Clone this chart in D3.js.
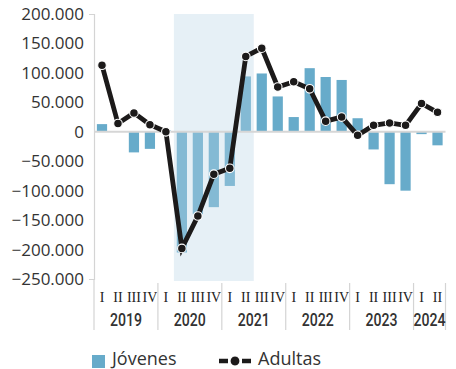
<!DOCTYPE html>
<html>
<head>
<meta charset="utf-8">
<script src="https://cdn.jsdelivr.net/npm/d3@7"></script>
<style>
  html, body { margin: 0; padding: 0; background: #fff; }
  svg { display: block; }
</style>
</head>
<body>
<svg id="chart" width="456" height="369"></svg>
<script>
// Quarterly change in employment, young vs adult women
const years = ["2019", "2020", "2021", "2022", "2023", "2024"];
const quarters = [
  "2019-I", "2019-II", "2019-III", "2019-IV",
  "2020-I", "2020-II", "2020-III", "2020-IV",
  "2021-I", "2021-II", "2021-III", "2021-IV",
  "2022-I", "2022-II", "2022-III", "2022-IV",
  "2023-I", "2023-II", "2023-III", "2023-IV",
  "2024-I", "2024-II"
];
const jovenes = [
  13000, 1000, -35000, -29000,
  3000, -205000, -140000, -128000,
  -92000, 94000, 99000, 60000,
  25000, 108000, 93000, 88000,
  23000, -30000, -89000, -100000,
  -4000, -23000
];
const adultas = [
  113000, 14000, 32000, 12000,
  0, -198000, -143000, -72000,
  -62000, 128000, 142000, 76000,
  85000, 73000, 18000, 25000,
  -6000, 11000, 15000, 11000,
  48000, 33000
];
const yTicks = [200000, 150000, 100000, 50000, 0, -50000, -100000, -150000, -200000, -250000];
// Quarters covered by the shaded band (pandemic period)
const shadeFrom = "2020-II", shadeTo = "2021-II";

const svg = d3.select("#chart");
const fmt = v => d3.format(",")(v).replace(/,/g, ".");

const x = d3.scaleBand().domain(quarters).range([94, 445.5]).paddingInner(0.36).paddingOuter(0.18);
const xStep = d3.scaleBand().domain(quarters).range([94, 445.5]);
const y = d3.scaleLinear().domain([-250000, 200000]).range([279, 14]);

const barColor = "#67abca";

// y axis
const yAxis = d3.axisLeft(y).tickValues(yTicks).tickFormat(fmt).tickSize(0).tickSizeOuter(5).tickPadding(10);
const ya = svg.append("g").attr("transform", "translate(94,0)").call(yAxis);
ya.select(".domain").attr("stroke", "#d4d4d4").attr("stroke-width", 1.2);
ya.selectAll("text").attr("font-family", "'Open Sans', sans-serif").attr("font-size", 17).attr("fill", "#333");

// bars
svg.append("g").selectAll("rect").data(quarters).join("rect")
  .attr("x", d => x(d))
  .attr("width", x.bandwidth())
  .attr("y", (d, i) => y(Math.max(0, jovenes[i])))
  .attr("height", (d, i) => Math.abs(y(jovenes[i]) - y(0)))
  .attr("fill", barColor);

// shaded period, laid over the bars
svg.append("rect")
  .attr("x", xStep(shadeFrom))
  .attr("width", xStep(shadeTo) + xStep.step() - xStep(shadeFrom))
  .attr("y", y(200000))
  .attr("height", 281 - y(200000))
  .attr("fill", "rgb(186,214,230)")
  .attr("fill-opacity", 0.36);

// zero line
svg.append("line")
  .attr("x1", 94).attr("x2", 445.5)
  .attr("y1", y(0)).attr("y2", y(0))
  .attr("stroke", "#d6d6d6").attr("stroke-width", 2);

// adult line with markers
const cx = d => x(d) + x.bandwidth() / 2;
svg.append("path")
  .datum(quarters)
  .attr("d", d3.line().x(cx).y((d, i) => y(adultas[i])))
  .attr("fill", "none").attr("stroke", "#1c1a1a").attr("stroke-width", 4.8)
  .attr("stroke-linejoin", "miter");
svg.append("g").selectAll("circle").data(quarters).join("circle")
  .attr("cx", cx).attr("cy", (d, i) => y(adultas[i]))
  .attr("r", 4.3)
  .attr("fill", "#1c1a1a").attr("stroke", "#fff").attr("stroke-width", 1.1);

// x axis: quarter labels, year labels, year separators
const xg = svg.append("g");
xg.selectAll("text.q").data(quarters).join("text")
  .attr("class", "q")
  .attr("x", cx)
  .attr("y", 301.5)
  .attr("text-anchor", "middle")
  .attr("font-family", "'Liberation Serif', serif")
  .attr("font-size", 14)
  .attr("fill", "#222")
  .text(d => d.split("-")[1]);

years.forEach(yr => {
  const qs = quarters.filter(q => q.startsWith(yr));
  const x0 = xStep(qs[0]), x1 = xStep(qs[qs.length - 1]) + xStep.step();
  xg.append("line").attr("x1", x1).attr("x2", x1).attr("y1", 283).attr("y2", 330)
    .attr("stroke", "#d4d4d4").attr("stroke-width", 1.2);
  xg.append("text")
    .attr("x", (x0 + x1) / 2)
    .attr("y", 326)
    .attr("text-anchor", "middle")
    .attr("font-family", "Roboto, sans-serif")
    .attr("font-weight", 500)
    .attr("font-size", 18)
    .attr("fill", "#333")
    .attr("textLength", 32)
    .attr("lengthAdjust", "spacingAndGlyphs")
    .text(yr);
});
xg.append("line").attr("x1", 94).attr("x2", 94).attr("y1", 279).attr("y2", 330)
  .attr("stroke", "#d4d4d4").attr("stroke-width", 1.2);

// legend
const lg = svg.append("g");
lg.append("rect").attr("x", 92).attr("y", 355).attr("width", 13).attr("height", 13).attr("fill", barColor);
lg.append("text").attr("x", 112).attr("y", 365)
  .attr("font-family", "'Open Sans', sans-serif").attr("font-size", 18).attr("fill", "#333")
  .text("Jóvenes");
lg.append("line").attr("x1", 219).attr("x2", 251).attr("y1", 361).attr("y2", 361)
  .attr("stroke", "#1c1a1a").attr("stroke-width", 4.5).attr("stroke-dasharray", "9 3 8 3 9");
lg.append("circle").attr("cx", 235).attr("cy", 361).attr("r", 5)
  .attr("fill", "#1c1a1a").attr("stroke", "#fff").attr("stroke-width", 1.1);
lg.append("text").attr("x", 258).attr("y", 365)
  .attr("font-family", "'Open Sans', sans-serif").attr("font-size", 18).attr("fill", "#333")
  .text("Adultas");
</script>
</body>
</html>
